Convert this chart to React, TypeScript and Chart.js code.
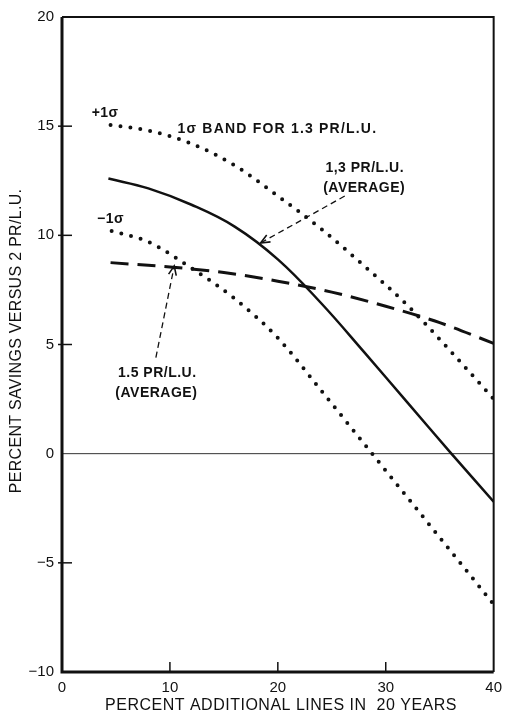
import React, { useEffect, useRef } from "react";
import { Chart, registerables } from "chart.js";

Chart.register(...registerables);

// X positions (percent additional lines in 20 years)
const upperX = [4.5, 8, 12, 16, 20, 24, 28, 32, 36, 40];
const upperY = [15.05, 14.8, 14.2, 13.2, 11.8, 10.3, 8.6, 6.8, 4.7, 2.5];

const avg13X = [4.3, 8, 12, 16, 20, 24, 28, 32, 36, 40];
const avg13Y = [12.6, 12.15, 11.4, 10.4, 8.9, 6.9, 4.65, 2.35, 0.05, -2.2];

const lowerX = [4.6, 8, 12, 16, 20, 24, 28, 32, 36, 40];
const lowerY = [10.2, 9.7, 8.5, 7.1, 5.3, 2.9, 0.45, -2.0, -4.45, -6.9];

const avg15X = [4.5, 10, 15, 20, 25, 30, 35, 40];
const avg15Y = [8.75, 8.55, 8.3, 7.9, 7.4, 6.75, 6.0, 5.05];

const xTicks = [0, 10, 20, 30, 40];
const yTicks = [-10, -5, 0, 5, 10, 15, 20];

const xTitle = "PERCENT ADDITIONAL LINES IN  20 YEARS";
const yTitle = "PERCENT SAVINGS VERSUS 2 PR/L.U.";

// annotation texts in data coordinates
const labels = [
  { text: "+1σ", x: 4.0, y: 15.6, align: "center", spacing: 0.5 },
  { text: "1σ BAND FOR 1.3 PR/L.U.", x: 10.7, y: 14.87, align: "left", spacing: 1.2 },
  { text: "1,3 PR/L.U.", x: 28.05, y: 13.09, align: "center", spacing: 0.5 },
  { text: "(AVERAGE)", x: 28.0, y: 12.17, align: "center", spacing: 0.5 },
  { text: "−1σ", x: 4.5, y: 10.76, align: "center", spacing: 0.5 },
  { text: "1.5 PR/L.U.", x: 8.83, y: 3.69, align: "center", spacing: 0.5 },
  { text: "(AVERAGE)", x: 8.74, y: 2.78, align: "center", spacing: 0.5 },
];

// arrows: from -> to (data coords)
const arrows = [
  { x1: 26.2, y1: 11.8, x2: 18.4, y2: 9.65 },
  { x1: 8.7, y1: 4.4, x2: 10.4, y2: 8.6 },
];

const FONT = "'Liberation Sans', Arial, sans-serif";

const toPts = (xs: number[], ys: number[]) => xs.map((x, i) => ({ x, y: ys[i] }));

const decorPlugin = {
  id: "decor",
  beforeDatasetsDraw(chart: any) {
    const { ctx, chartArea: a, scales } = chart;
    const ys = scales.y;
    ctx.save();
    ctx.strokeStyle = "#333";
    ctx.lineWidth = 1;
    ctx.beginPath();
    ctx.moveTo(a.left, ys.getPixelForValue(0));
    ctx.lineTo(a.right, ys.getPixelForValue(0));
    ctx.stroke();
    ctx.restore();
  },
  afterDatasetsDraw(chart: any) {
    const { ctx, chartArea: a, scales } = chart;
    const xs = scales.x, ys = scales.y;
    ctx.save();
    ctx.strokeStyle = "#111";
    ctx.lineWidth = 2;
    ctx.beginPath();
    ctx.moveTo(a.left, a.top);
    ctx.lineTo(a.right, a.top);
    ctx.lineTo(a.right, a.bottom);
    ctx.stroke();
    ctx.lineWidth = 3;
    ctx.beginPath();
    ctx.moveTo(a.left, a.top);
    ctx.lineTo(a.left, a.bottom);
    ctx.lineTo(a.right, a.bottom);
    ctx.stroke();
    ctx.lineWidth = 1.5;
    for (const v of yTicks) {
      if (v === yTicks[0] || v === yTicks[yTicks.length - 1] || v === 0) continue;
      const py = ys.getPixelForValue(v);
      ctx.beginPath();
      ctx.moveTo(a.left - 4, py);
      ctx.lineTo(a.left + 10, py);
      ctx.stroke();
    }
    for (const v of xTicks) {
      if (v === xTicks[0] || v === xTicks[xTicks.length - 1]) continue;
      const px = xs.getPixelForValue(v);
      ctx.beginPath();
      ctx.moveTo(px, a.bottom);
      ctx.lineTo(px, a.bottom - 10);
      ctx.stroke();
    }
    for (const ar of arrows) {
      const x1 = xs.getPixelForValue(ar.x1), y1 = ys.getPixelForValue(ar.y1);
      const x2 = xs.getPixelForValue(ar.x2), y2 = ys.getPixelForValue(ar.y2);
      ctx.lineWidth = 1.3;
      ctx.setLineDash([6, 4]);
      ctx.beginPath();
      ctx.moveTo(x1, y1);
      ctx.lineTo(x2, y2);
      ctx.stroke();
      ctx.setLineDash([]);
      const ang = Math.atan2(y2 - y1, x2 - x1);
      ctx.lineWidth = 1.6;
      ctx.beginPath();
      ctx.moveTo(x2 - 10 * Math.cos(ang - 0.4), y2 - 10 * Math.sin(ang - 0.4));
      ctx.lineTo(x2, y2);
      ctx.lineTo(x2 - 10 * Math.cos(ang + 0.4), y2 - 10 * Math.sin(ang + 0.4));
      ctx.stroke();
    }
    ctx.fillStyle = "#111";
    ctx.font = `bold 14px ${FONT}`;
    ctx.textBaseline = "middle";
    for (const l of labels) {
      (ctx as any).letterSpacing = `${l.spacing}px`;
      ctx.textAlign = l.align as CanvasTextAlign;
      ctx.fillText(l.text, xs.getPixelForValue(l.x), ys.getPixelForValue(l.y));
    }
    ctx.font = `16px ${FONT}`;
    (ctx as any).letterSpacing = "0.5px";
    ctx.textAlign = "center";
    ctx.fillText(xTitle, 281, 706);
    ctx.save();
    ctx.translate(17, 341);
    ctx.rotate(-Math.PI / 2);
    (ctx as any).letterSpacing = "0.3px";
    ctx.fillText(yTitle, 0, 0);
    ctx.restore();
    ctx.restore();
  },
};

export default function App() {
  const ref = useRef<HTMLCanvasElement>(null);
  useEffect(() => {
    document.body.style.margin = "0";
    const dotted = {
      borderColor: "#111",
      borderWidth: 4,
      borderDash: [0, 10],
      borderCapStyle: "round",
      pointRadius: 0,
      cubicInterpolationMode: "monotone",
      fill: false,
    };
    const chart = new Chart(ref.current!, {
      type: "line",
      data: {
        datasets: [
          { ...dotted, label: "+1σ", data: toPts(upperX, upperY) } as any,
          { ...dotted, label: "-1σ", data: toPts(lowerX, lowerY) } as any,
          {
            label: "1.3 PR/L.U. (AVERAGE)",
            data: toPts(avg13X, avg13Y),
            borderColor: "#111",
            borderWidth: 2.5,
            pointRadius: 0,
            tension: 0.4,
          },
          {
            label: "1.5 PR/L.U. (AVERAGE)",
            data: toPts(avg15X, avg15Y),
            borderColor: "#111",
            borderWidth: 3,
            borderDash: [18, 9],
            pointRadius: 0,
            cubicInterpolationMode: "monotone",
          },
        ],
      },
      options: {
        animation: false,
        responsive: false,
        maintainAspectRatio: false,
        layout: { padding: { top: 14, right: 12, left: 0, bottom: 0 } },
        plugins: { legend: { display: false }, tooltip: { enabled: false } },
        scales: {
          x: {
            type: "linear",
            min: 0,
            max: 40,
            afterBuildTicks: (s: any) => { s.ticks = xTicks.map((v) => ({ value: v })); },
            afterFit: (s: any) => { s.height = 44; },
            grid: { display: false, drawTicks: false },
            border: { display: false },
            ticks: { color: "#111", font: { size: 15, family: FONT }, padding: 7, maxRotation: 0 },
          },
          y: {
            type: "linear",
            min: -10,
            max: 20,
            afterBuildTicks: (s: any) => { s.ticks = yTicks.map((v) => ({ value: v })); },
            afterFit: (s: any) => { s.width = 62; },
            grid: { display: false, drawTicks: false },
            border: { display: false },
            ticks: {
              color: "#111",
              font: { size: 15, family: FONT },
              padding: 8,
              callback: (v: any) => String(v).replace("-", "−"),
            },
          },
        },
      },
      plugins: [decorPlugin],
    });
    return () => chart.destroy();
  }, []);
  return (
    <div style={{ width: 509, height: 716, position: "relative" }}>
      <canvas ref={ref} width={509} height={716} style={{ display: "block" }} />
    </div>
  );
}
